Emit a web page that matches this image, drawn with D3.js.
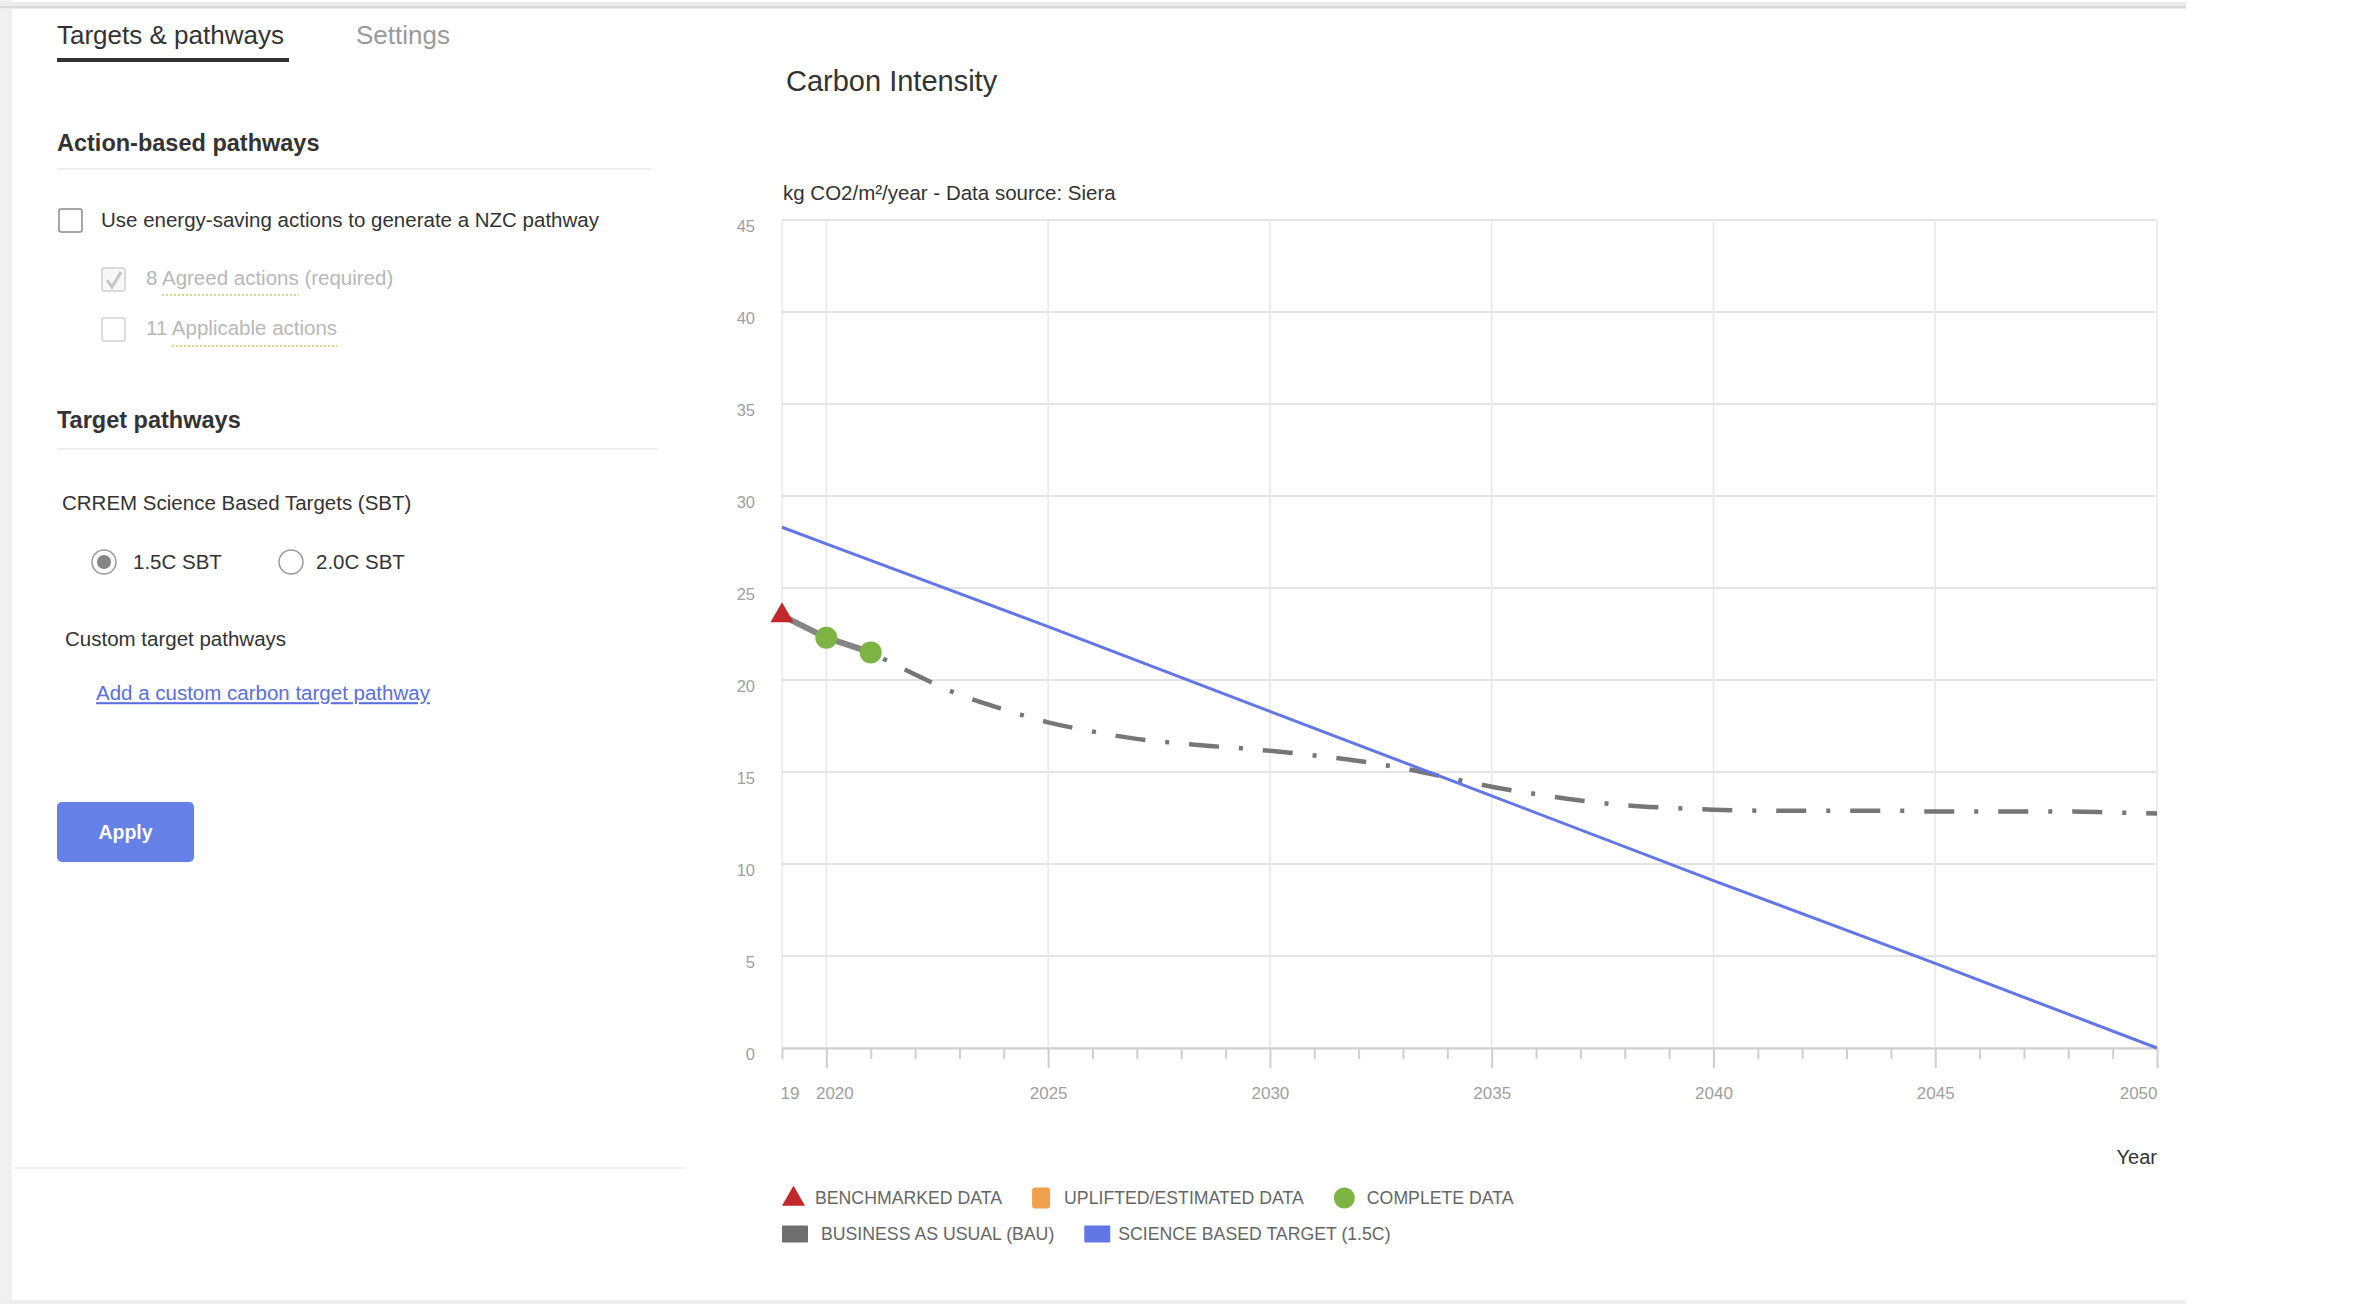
<!DOCTYPE html>
<html>
<head>
<meta charset="utf-8">
<title>Carbon Intensity</title>
<script src="https://cdn.jsdelivr.net/npm/d3@7"></script>
<style>
  html, body { margin: 0; padding: 0; background: #fff; }
  svg { display: block; font-family: "Liberation Sans", Arial, sans-serif; }
</style>
</head>
<body>
<div id="page"></div>
<script>
// science based target 1.5C (straight pathway to zero in 2050)
const sbtYears = [2019, 2020, 2025, 2030, 2035, 2040, 2045, 2050];
const sbtValues = [28.3, 27.4, 22.9, 18.3, 13.7, 9.1, 4.6, 0];

// measured intensity
const actualYears = [2019, 2020, 2021];
const actualValues = [23.5, 22.3, 21.5];
const actualTypes = ['benchmarked', 'complete', 'complete'];

// business as usual projection
const bauYears = [2021, 2022, 2023, 2024, 2025, 2026, 2027, 2028, 2029, 2030,
                  2031, 2032, 2033, 2034, 2035, 2036, 2037, 2038, 2039, 2040,
                  2041, 2042, 2043, 2044, 2045, 2046, 2047, 2048, 2049, 2050];
const bauValues = [21.5, 20.3, 19.2, 18.4, 17.7, 17.2, 16.8, 16.55, 16.35, 16.15,
                   15.9, 15.6, 15.2, 14.7, 14.2, 13.8, 13.45, 13.2, 13.05, 12.95,
                   12.9, 12.9, 12.9, 12.9, 12.85, 12.85, 12.85, 12.85, 12.8, 12.75];

const yTicks = [0, 5, 10, 15, 20, 25, 30, 35, 40, 45];
const xLabelYears = [2019, 2020, 2025, 2030, 2035, 2040, 2045, 2050];
const xLabels = ['19', '2020', '2025', '2030', '2035', '2040', '2045', '2050'];

const legendRow1 = ['BENCHMARKED DATA', 'UPLIFTED/ESTIMATED DATA', 'COMPLETE DATA'];
const legendRow2 = ['BUSINESS AS USUAL (BAU)', 'SCIENCE BASED TARGET (1.5C)'];

const colors = {
    benchmarked: '#c0282b',
    uplifted: '#eea04a',
    complete: '#7cb342',
    bau: '#767676',
    sbt: '#6276e6'
};

const W = 2363, H = 1304;
const svg = d3.select('#page').append('svg')
    .attr('width', W)
    .attr('height', H);

// page frame
svg.append('rect').attr('x', 0).attr('y', 0).attr('width', 12).attr('height', H).attr('fill', '#f0f0f0');
svg.append('rect').attr('x', 0).attr('y', 2).attr('width', 2186).attr('height', 7).attr('fill', '#ececec');
svg.append('line').attr('x1', 0).attr('x2', 2186).attr('y1', 7).attr('y2', 7)
    .attr('stroke', '#d9d9d9').attr('stroke-width', 2);
svg.append('rect').attr('x', 0).attr('y', 1300).attr('width', 2186).attr('height', 4).attr('fill', '#eeeeee');

// ---------- left panel ----------
const panel = svg.append('g');

function label(g, x, y, text, size, color, weight) {
    return g.append('text')
        .attr('x', x).attr('y', y).attr('dy', '0.35em')
        .attr('font-size', size)
        .attr('font-weight', weight || 'normal')
        .attr('fill', color)
        .text(text);
}

label(panel, 57, 35, 'Targets & pathways', 26, '#333');
panel.append('rect').attr('x', 57).attr('y', 58).attr('width', 232).attr('height', 4).attr('fill', '#333');
label(panel, 356, 35, 'Settings', 26, '#9a9a9a');

label(panel, 57, 143, 'Action-based pathways', 23.5, '#333', 'bold');
panel.append('line').attr('x1', 57).attr('x2', 651).attr('y1', 169).attr('y2', 169)
    .attr('stroke', '#ebebeb').attr('stroke-width', 2);

panel.append('rect').attr('x', 59).attr('y', 209).attr('width', 23).attr('height', 23).attr('rx', 2)
    .attr('fill', '#fff').attr('stroke', '#8a8a8a').attr('stroke-width', 1.5);
label(panel, 101, 220, 'Use energy-saving actions to generate a NZC pathway', 20.5, '#333');

// disabled sub options
panel.append('rect').attr('x', 102).attr('y', 268).attr('width', 23).attr('height', 23).attr('rx', 2)
    .attr('fill', '#f7f7f7').attr('stroke', '#cfcfcf').attr('stroke-width', 1.5);
panel.append('path').attr('d', 'M107,280 L112,287 L121,272')
    .attr('fill', 'none').attr('stroke', '#c4c4c4').attr('stroke-width', 3);
const agreed = label(panel, 146, 278, '8 Agreed actions (required)', 20.5, '#b8b8b8');

panel.append('rect').attr('x', 102).attr('y', 318).attr('width', 23).attr('height', 23).attr('rx', 2)
    .attr('fill', '#fff').attr('stroke', '#d3d3d3').attr('stroke-width', 1.5);
const applicable = label(panel, 146, 328, '11 Applicable actions', 20.5, '#b8b8b8');

function dottedUnder(textSel, from, count, yLine) {
    const node = textSel.node();
    const x0 = node.getStartPositionOfChar(from).x;
    const len = node.getSubStringLength(from, count);
    panel.append('line').attr('x1', x0).attr('x2', x0 + len).attr('y1', yLine).attr('y2', yLine)
        .attr('stroke', '#c9dc8a').attr('stroke-width', 2).attr('stroke-dasharray', '2 2');
}
dottedUnder(agreed, 2, 14, 295);
dottedUnder(applicable, 3, 18, 346);

label(panel, 57, 420, 'Target pathways', 23.5, '#333', 'bold');
panel.append('line').attr('x1', 57).attr('x2', 657).attr('y1', 449).attr('y2', 449)
    .attr('stroke', '#ebebeb').attr('stroke-width', 2);

label(panel, 62, 503, 'CRREM Science Based Targets (SBT)', 20.5, '#333');

panel.append('circle').attr('cx', 104).attr('cy', 562).attr('r', 12)
    .attr('fill', '#fff').attr('stroke', '#9a9a9a').attr('stroke-width', 1.5);
panel.append('circle').attr('cx', 104).attr('cy', 562).attr('r', 7).attr('fill', '#858585');
label(panel, 133, 562, '1.5C SBT', 20.5, '#333');
panel.append('circle').attr('cx', 291).attr('cy', 562).attr('r', 12)
    .attr('fill', '#fff').attr('stroke', '#9a9a9a').attr('stroke-width', 1.5);
label(panel, 316, 562, '2.0C SBT', 20.5, '#333');

label(panel, 65, 639, 'Custom target pathways', 20.5, '#333');
label(panel, 96, 693, 'Add a custom carbon target pathway', 20.5, '#5a6fe0')
    .attr('text-decoration', 'underline');

panel.append('rect').attr('x', 57).attr('y', 802).attr('width', 137).attr('height', 60).attr('rx', 5)
    .attr('fill', '#6580e6');
label(panel, 125.5, 832, 'Apply', 19.5, '#fff', 'bold').attr('text-anchor', 'middle');

panel.append('line').attr('x1', 15).attr('x2', 686).attr('y1', 1168).attr('y2', 1168)
    .attr('stroke', '#f2f2f2').attr('stroke-width', 2);

// ---------- chart ----------
const plot = { left: 782, right: 2157, top: 220, bottom: 1048 };
const chart = svg.append('g');

label(chart, 786, 81, 'Carbon Intensity', 29, '#333');
label(chart, 783, 193, 'kg CO2/m²/year - Data source: Siera', 20.5, '#333');

const x = d3.scaleLinear().domain([2019, 2050]).range([plot.left, plot.right]);
const y = d3.scaleLinear().domain([0, 45]).range([plot.bottom, plot.top]);

// grid
chart.append('g').selectAll('line').data(yTicks).enter().append('line')
    .attr('x1', plot.left).attr('x2', plot.right)
    .attr('y1', d => y(d)).attr('y2', d => y(d))
    .attr('stroke', '#e4e4e4').attr('stroke-width', 2);
chart.append('g').selectAll('line').data(xLabelYears).enter().append('line')
    .attr('x1', d => x(d)).attr('x2', d => x(d))
    .attr('y1', plot.top).attr('y2', plot.bottom)
    .attr('stroke', '#e8e8e8').attr('stroke-width', 1.5);

// y axis labels
const yAxis = chart.append('g')
    .attr('transform', `translate(${plot.left},0)`)
    .call(d3.axisLeft(y).tickValues(yTicks).tickSize(0).tickPadding(27));
yAxis.select('.domain').remove();
yAxis.selectAll('text')
    .attr('font-family', '"Liberation Sans", Arial, sans-serif')
    .attr('font-size', 16.5).attr('fill', '#a0a0a0').attr('dy', '0.68em');

// x axis with a tick every year, long ticks on labelled years
const tickYears = d3.range(2019, 2051);
const xAxis = chart.append('g')
    .attr('transform', `translate(0,${plot.bottom})`)
    .call(d3.axisBottom(x).tickValues(tickYears).tickSizeInner(11).tickSizeOuter(0).tickPadding(28)
        .tickFormat(d => {
            const i = xLabelYears.indexOf(d);
            return i >= 0 ? xLabels[i] : '';
        }));
xAxis.select('.domain').attr('stroke', '#cfcfcf').attr('stroke-width', 2);
xAxis.selectAll('.tick line').attr('stroke', '#cfcfcf').attr('stroke-width', 2)
    .attr('y2', d => (d !== 2019 && xLabelYears.includes(d)) ? 20 : 11);
xAxis.selectAll('.tick text')
    .attr('font-family', '"Liberation Sans", Arial, sans-serif')
    .attr('font-size', 17).attr('fill', '#a0a0a0')
    .attr('text-anchor', d => d === 2019 ? 'start' : d === 2050 ? 'end' : 'middle')
    .attr('dx', d => d === 2019 ? -2 : d === 2020 ? 8 : 0);

label(chart, plot.right, 1157, 'Year', 20, '#333').attr('text-anchor', 'end');

const line = d3.line().x(d => x(d[0])).y(d => y(d[1]));

// BAU projection (dash dot)
chart.append('path')
    .datum(d3.zip(bauYears, bauValues))
    .attr('d', line.curve(d3.curveMonotoneX))
    .attr('fill', 'none').attr('stroke', colors.bau).attr('stroke-width', 4.5)
    .attr('stroke-dasharray', '4 20 30 20')
    .attr('stroke-dashoffset', -14);

// science based target
chart.append('path')
    .datum(d3.zip(sbtYears, sbtValues))
    .attr('d', d3.line().x(d => x(d[0])).y(d => y(d[1])))
    .attr('fill', 'none').attr('stroke', colors.sbt).attr('stroke-width', 3);

// actual data
chart.append('path')
    .datum(d3.zip(actualYears, actualValues))
    .attr('d', d3.line().x(d => x(d[0])).y(d => y(d[1])))
    .attr('fill', 'none').attr('stroke', '#858585').attr('stroke-width', 6);

const pts = actualYears.map((yr, i) => ({ year: yr, value: actualValues[i], type: actualTypes[i] }));
chart.selectAll('.mark').data(pts).enter().append('path')
    .attr('class', 'mark')
    .attr('transform', d => `translate(${x(d.year)},${y(d.value)})`)
    .attr('d', d => d.type === 'benchmarked'
        ? d3.symbol(d3.symbolTriangle, 230)()
        : d3.symbol(d3.symbolCircle, Math.PI * 11 * 11)())
    .attr('fill', d => colors[d.type]);

// legend
function drawLegendRow(items, symbols, yMid) {
    let cx = plot.left;
    items.forEach((txt, i) => {
        const s = symbols[i];
        if (s.kind === 'triangle') {
            chart.append('path').attr('transform', `translate(${cx + 11.5},${yMid + 1})`)
                .attr('d', d3.symbol(d3.symbolTriangle, 230)()).attr('fill', s.color);
        } else if (s.kind === 'circle') {
            chart.append('circle').attr('cx', cx + 10.5).attr('cy', yMid).attr('r', 10.5).attr('fill', s.color);
        } else {
            chart.append('rect').attr('x', cx).attr('y', yMid - s.h / 2)
                .attr('width', s.w).attr('height', s.h).attr('rx', s.rx).attr('fill', s.color);
        }
        const t = label(chart, cx + s.w + s.gap, yMid, txt, 17.7, '#666');
        cx += s.w + s.gap + t.node().getComputedTextLength() + 30;
    });
}
drawLegendRow(legendRow1, [
    { kind: 'triangle', w: 23, gap: 10, color: colors.benchmarked },
    { kind: 'rect', w: 18, h: 21, rx: 3, gap: 14, color: colors.uplifted },
    { kind: 'circle', w: 21, gap: 12, color: colors.complete }
], 1198);
drawLegendRow(legendRow2, [
    { kind: 'rect', w: 26, h: 17, rx: 1, gap: 13, color: '#6f6f6f' },
    { kind: 'rect', w: 26, h: 17, rx: 1, gap: 8, color: colors.sbt }
], 1234);
</script>
</body>
</html>
